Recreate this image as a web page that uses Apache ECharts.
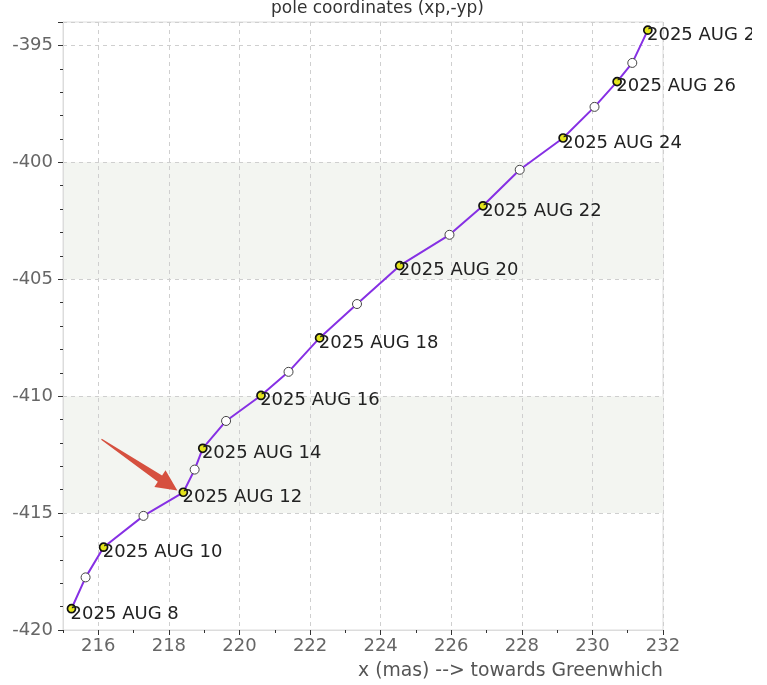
<!DOCTYPE html>
<html><head><meta charset="utf-8">
<script src="https://cdn.jsdelivr.net/npm/echarts@6/dist/echarts.min.js"></script>
<style>html,body{margin:0;padding:0;background:#fff;overflow:hidden}#c{width:752px;height:685px}</style>
</head><body><div id="c"></div><script>
// ---- data ----
const dates = ['2025 AUG 8','2025 AUG 9','2025 AUG 10','2025 AUG 11','2025 AUG 12','2025 AUG 13','2025 AUG 14','2025 AUG 15','2025 AUG 16','2025 AUG 17','2025 AUG 18','2025 AUG 19','2025 AUG 20','2025 AUG 21','2025 AUG 22','2025 AUG 23','2025 AUG 24','2025 AUG 25','2025 AUG 26','2025 AUG 27','2025 AUG 28'];
const xp = [215.24,215.64,216.15,217.28,218.41,218.73,218.96,219.62,220.61,221.39,222.27,223.33,224.54,225.95,226.90,227.94,229.17,230.06,230.70,231.13,231.57];
const yp = [-419.09,-417.75,-416.46,-415.12,-414.11,-413.14,-412.23,-411.06,-409.97,-408.96,-407.51,-406.06,-404.42,-403.10,-401.86,-400.32,-398.96,-397.63,-396.55,-395.75,-394.35];
const labeled = [1,0,1,0,1,0,1,0,1,0,1,0,1,0,1,0,1,0,1,0,1];
const xTickLabels = [216,218,220,222,224,226,228,230,232];
const yTickLabels = [-420,-415,-410,-405,-400,-395];
const arrowFrom = [216.09,-411.84];
const arrowTo = [218.24,-414.03];

const FONT = 'DejaVu Sans';
const SHADE = '#f3f5f1';
const CLEAR = 'rgba(0,0,0,0)';

const chart = echarts.init(document.getElementById('c'), null, {renderer:'canvas'});
const pts = xp.map((x,i)=>{
  const on = labeled[i]===1;
  return {
    value:[x, yp[i]], name: dates[i],
    symbolSize: on ? 8 : 9,
    itemStyle: on ? {color:'#e4e41c', borderColor:'#111', borderWidth:1.7}
                  : {color:'#ffffff', borderColor:'#444', borderWidth:1},
    label: {show: on}
  };
});

chart.setOption({
  animation:false,
  textStyle:{fontFamily:FONT},
  title:{text:'pole coordinates (xp,-yp)', left:266, top:-5,
    textStyle:{fontSize:17, fontWeight:'normal', color:'#333', fontFamily:FONT}},
  grid:{left:63, right:89, top:22, bottom:55, show:true, borderColor:'#dcdcdc', borderWidth:1, backgroundColor:'transparent'},
  xAxis:[{
    type:'value', min:215, max:232, splitNumber:8,
    name:'x (mas) --> towards Greenwhich', nameLocation:'end', nameGap:0,
    nameTextStyle:{fontSize:18.8, color:'#555', align:'right', verticalAlign:'top', padding:[32,0,0,0], fontFamily:FONT},
    axisLine:{show:true, lineStyle:{color:'#dcdcdc'}},
    axisTick:{show:true, length:5, lineStyle:{color:'#333'}, customValues:xTickLabels},
    axisLabel:{fontSize:18, color:'#666', margin:7, customValues:xTickLabels,
      formatter:v=>xTickLabels.includes(v)?String(v):''},
    splitLine:{show:true, lineStyle:{type:[4,4], color:'#cfcfcf'}}
  },{
    type:'value', min:215, max:232, interval:1, position:'bottom',
    axisLine:{show:false}, axisLabel:{show:false}, splitLine:{show:false},
    axisTick:{show:true, length:3, lineStyle:{color:'#333'}}
  }],
  yAxis:[{
    type:'value', min:-420, max:-394, interval:5,
    axisLine:{show:true, lineStyle:{color:'#dcdcdc'}},
    axisTick:{show:true, length:5, lineStyle:{color:'#333'}},
    axisLabel:{fontSize:18, color:'#666', margin:10,
      formatter:v=>yTickLabels.includes(v)?String(v):''},
    splitLine:{show:true, lineStyle:{type:[4,4], color:'#cfcfcf'}},
    splitArea:{show:true, areaStyle:{color:[CLEAR,SHADE,CLEAR,SHADE,CLEAR,CLEAR]}}
  },{
    type:'value', min:-420, max:-394, interval:1, position:'left',
    axisLine:{show:false}, axisLabel:{show:false}, splitLine:{show:false},
    axisTick:{show:true, length:3, lineStyle:{color:'#333'}}
  }],
  series:[{
    type:'line', xAxisIndex:0, yAxisIndex:0, data:pts,
    lineStyle:{color:'#8630e4', width:2}, symbol:'circle',
    z:3,
    label:{position:[4,10], align:'left', verticalAlign:'middle', formatter:'{b}', fontSize:18, color:'#222', fontFamily:FONT}
  },{
    type:'custom', xAxisIndex:0, yAxisIndex:0, silent:true, z:5,
    data:[[arrowFrom[0],arrowFrom[1],arrowTo[0],arrowTo[1]]],
    encode:{x:[0,2], y:[1,3]},
    renderItem:function(params, api){
      const p0 = api.coord([api.value(0), api.value(1)]);
      const p1 = api.coord([api.value(2), api.value(3)]);
      const dx=p1[0]-p0[0], dy=p1[1]-p0[1], L=Math.hypot(dx,dy);
      const ux=dx/L, uy=dy/L, nx=-uy, ny=ux;
      const headLen=21, headHalf=10, shaftEnd=3.8, shaftStart=0.6;
      const bx=p1[0]-ux*headLen, by=p1[1]-uy*headLen;
      const poly=[[p0[0]+nx*shaftStart,p0[1]+ny*shaftStart],[bx+nx*shaftEnd,by+ny*shaftEnd],[bx+nx*headHalf,by+ny*headHalf],[p1[0],p1[1]],[bx-nx*headHalf,by-ny*headHalf],[bx-nx*shaftEnd,by-ny*shaftEnd],[p0[0]-nx*shaftStart,p0[1]-ny*shaftStart]];
      return {type:'polygon', shape:{points:poly}, style:{fill:'#d6503f'}};
    }
  }]
});
</script></body></html>
